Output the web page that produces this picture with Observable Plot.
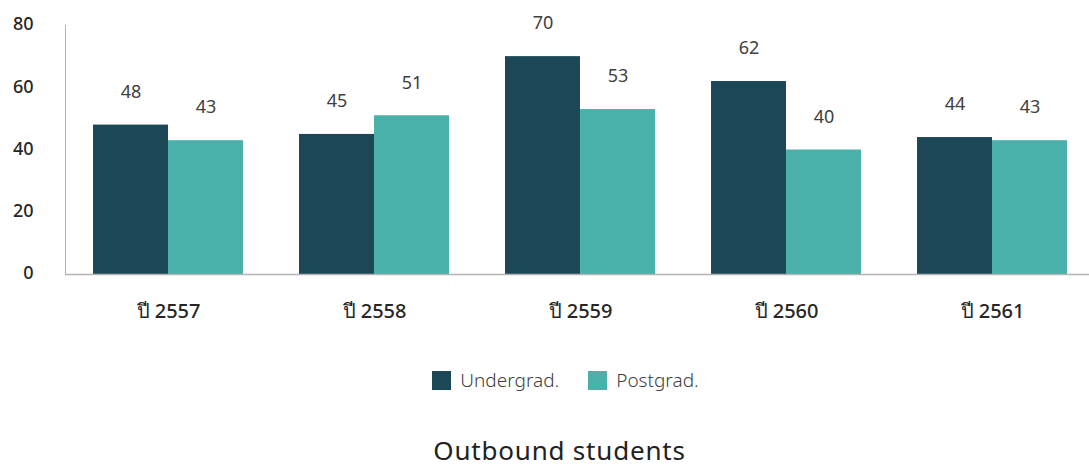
<!DOCTYPE html>
<html>
<head>
<meta charset="utf-8">
<script src="https://cdn.jsdelivr.net/npm/d3@7"></script>
<script src="https://cdn.jsdelivr.net/npm/@observablehq/plot@0.6"></script>
<style>
  body { margin: 0; background: #fff; font-family: "Noto Sans", "Open Sans", sans-serif; overflow: hidden; }
  #legend { display: flex; justify-content: center; gap: 29px; margin-top: 28px; padding-left: 42px; font-size: 19px; font-weight: 300; color: #404040; height: 24px; align-items: center; }
  #legend span.sw { display: inline-block; width: 19px; height: 19px; margin-right: 9px; }
  #legend .item { display: flex; align-items: center; }
  #title { text-align: center; margin-top: 45px; font-size: 26px; line-height: 26px; letter-spacing: 0.8px; color: #222; padding-left: 30px; }
</style>
</head>
<body>
<div id="chart"></div>
<div id="legend"></div>
<div id="title">Outbound students</div>
<script>
const years = ["ปี 2557", "ปี 2558", "ปี 2559", "ปี 2560", "ปี 2561"];
const seriesNames = ["Undergrad.", "Postgrad."];
const undergrad = [48, 45, 70, 62, 44];
const postgrad = [43, 51, 53, 40, 43];
const yTicks = [0, 20, 40, 60, 80];
const colors = ["#1b4757", "#4ab1aa"];

const ug = years.map((year, i) => ({year, value: undergrad[i], series: seriesNames[0]}));
const pg = years.map((year, i) => ({year, value: postgrad[i], series: seriesNames[1]}));

const plot = Plot.plot({
  width: 1089,
  height: 340,
  marginLeft: 65,
  marginRight: -6,
  marginTop: 25,
  marginBottom: 66,
  style: {fontFamily: "'Noto Sans', sans-serif", background: "#fff"},
  x: {domain: years, paddingInner: 0.272, paddingOuter: 0.136, round: false},
  y: {domain: [0, 80]},
  color: {domain: seriesNames, range: colors},
  marks: [
    Plot.barY(ug, {x: "year", y: "value", fill: "series", insetRight: 75}),
    Plot.barY(pg, {x: "year", y: "value", fill: "series", insetLeft: 75}),
    Plot.frame({anchor: "left", stroke: "#b3b3b3"}),
    Plot.ruleY([0], {stroke: "#b3b3b3", strokeWidth: 1.5}),
    Plot.text(ug, {x: "year", y: "value", text: "value", dx: -37.5, dy: -33, fontSize: 18, fill: "#404040"}),
    Plot.text(pg, {x: "year", y: "value", text: "value", dx: 37.5, dy: -33, fontSize: 18, fill: "#404040"}),
    Plot.axisY({ticks: yTicks, tickSize: 0, tickPadding: 32, fontSize: 18, fontWeight: 500, fill: "#262626", dy: -1, label: null}),
    Plot.axisX({tickSize: 0, tickPadding: 29, fontSize: 20, fontWeight: 500, fill: "#262626", label: null})
  ]
});
document.getElementById("chart").appendChild(plot);

const legend = document.getElementById("legend");
seriesNames.forEach((name, i) => {
  const item = document.createElement("div");
  item.className = "item";
  const sw = document.createElement("span");
  sw.className = "sw";
  sw.style.background = colors[i];
  item.appendChild(sw);
  item.appendChild(document.createTextNode(name));
  legend.appendChild(item);
});
</script>
</body>
</html>
